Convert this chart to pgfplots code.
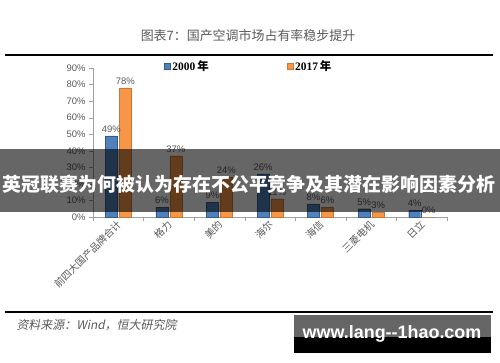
\documentclass[border=0pt]{standalone}
\usepackage{fontspec}
\setmainfont{Liberation Sans}
\newfontfamily\cjk{Noto Sans CJK SC}
\newfontfamily\cjkit[FakeSlant=0.2]{Noto Sans CJK SC}
\newfontfamily\serifb{Liberation Serif}
\usepackage{pgfplots}
\pgfplotsset{compat=1.18}
\definecolor{cblue}{HTML}{4F81BD}
\definecolor{corange}{HTML}{F79646}
\definecolor{tgray}{HTML}{595959}
\definecolor{agray}{HTML}{A0A0A0}
\begin{document}
\begin{tikzpicture}[x=1bp,y=1bp]
\useasboundingbox (0,0) rectangle (500,362);
\coordinate (axpos) at (93,145);
\node[font=\cjk\fontsize{13}{14}\selectfont, text=tgray] at (248,326) {图表7：国产空调市场占有率稳步提升};
\draw[line width=1.5bp] (5,307) -- (493,307);
\begin{axis}[at={(axpos)}, anchor=south west, scale only axis,
  width=354bp, height=149bp,
  ymin=0, ymax=90, ytick={0,10,...,90},
  yticklabel={\pgfmathprintnumber{\tick}\%},
  xmin=-0.5, xmax=6.5,
  xtick={0,...,6},
  xticklabels={前四大国产品牌合计,格力,美的,海尔,海信,三菱电机,日立},
  minor xtick={-0.5,0.5,...,6.5},
  major x tick style={draw=none},
  minor tick length=4bp,
  tick align=outside,
  major tick length=4bp,
  axis x line*=bottom, axis y line*=left,
  axis line style={agray, line width=0.8bp},
  tick style={agray},
  every tick label/.append style={text=tgray},
  yticklabel style={font=\fontsize{9.5}{10}\selectfont},
  xticklabel style={font=\cjk\fontsize{10}{11}\selectfont, rotate=45, anchor=east, xshift=3bp, yshift=-2bp},
  /pgf/number format/assume math mode=true,
  ybar, bar width=12bp,
  enlarge x limits=false,
  nodes near coords={\pgfmathprintnumber{\pgfplotspointmeta}\%},
  every node near coord/.append style={font=\fontsize{9.5}{10}\selectfont, text=tgray},
  legend style={at={(0.44,1)}, anchor=center, yshift=2bp, draw=none, fill=none,
     legend columns=2, font=\fontsize{11.5}{12}\selectfont,
     /tikz/every even column/.append style={column sep=76bp}},
  legend image code/.code={\fill[#1] (0bp,-3bp) rectangle (6bp,3bp);},
]
\addplot[fill=cblue, draw=cblue!70!black, bar shift=-7bp] coordinates {(0,49) (1,6) (2,9) (3,26) (4,8) (5,5) (6,4)};
\addplot[fill=corange, draw=corange!80!black, bar shift=7bp] coordinates {(0,78) (1,37) (2,24) (3,11) (4,6) (5,3) (6,0)};
\legend{{\serifb\bfseries 2000\,\cjk\bfseries 年},{\serifb\bfseries 2017\,\cjk\bfseries 年}}
\end{axis}
\fill[black, opacity=0.6] (0,150) rectangle (500,213);
\node[font=\cjk\bfseries\fontsize{19}{20}\selectfont, text=white] at (249,178) {英冠联赛为何被认为存在不公平竞争及其潜在影响因素分析};
\draw[line width=1.2bp] (5,50) -- (493,50);
\node[font=\cjkit\fontsize{12}{13}\selectfont, text=tgray, anchor=west] at (13,37) {资料来源：Wind，恒大研究院};
\fill[black] (294,9) rectangle (491,47);
\fill[black!60] (294,25) rectangle (491,47);
\node[font=\bfseries\fontsize{18}{19}\selectfont, text=white] at (392,28) {www.lang{-}{-}1hao.com};
\end{tikzpicture}
\end{document}
